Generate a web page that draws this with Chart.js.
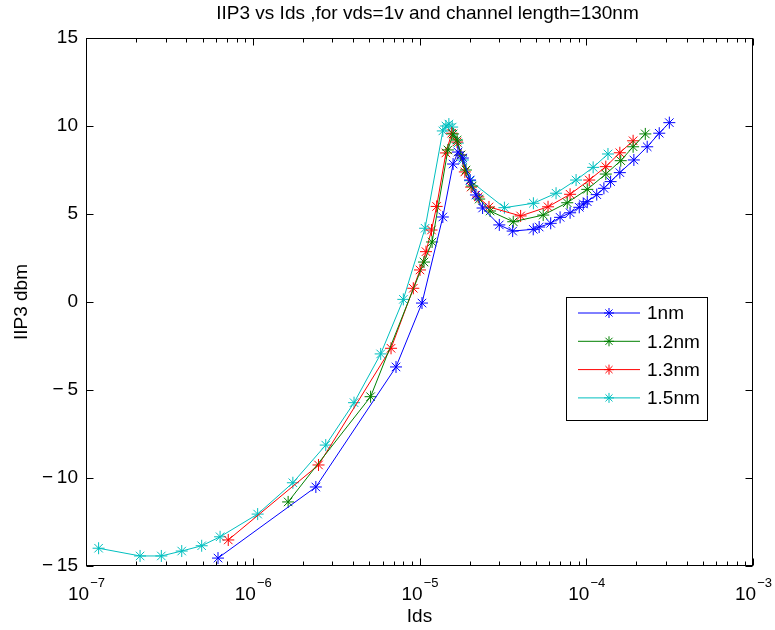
<!DOCTYPE html>
<html>
<head>
<meta charset="utf-8">
<script src="https://cdn.jsdelivr.net/npm/chart.js@4"></script>
<style>
  html, body { margin: 0; padding: 0; background: #fff; }
  canvas { display: block; }
</style>
</head>
<body>
<canvas id="chart" width="775" height="630"></canvas>
<script>
// IIP3 (dbm) vs Ids (A), 4 oxide thicknesses
const ids1nm  = [6.19e-7, 2.39e-6, 7.23e-6, 1.035e-5, 1.38e-5, 1.59e-5, 1.70e-5, 1.82e-5, 2.01e-5, 2.18e-5, 2.39e-5, 3.01e-5, 3.62e-5, 4.81e-5, 5.22e-5, 6.12e-5, 6.97e-5, 8.0e-5, 9.08e-5, 9.6e-5, 1.014e-4, 1.156e-4, 1.276e-4, 1.40e-4, 1.59e-4, 1.93e-4, 2.32e-4, 2.74e-4, 3.15e-4];
const iip1nm  = [-14.55, -10.51, -3.69, -0.06, 4.83, 7.84, 8.52, 8.18, 6.93, 6.08, 5.34, 4.38, 4.03, 4.13, 4.26, 4.47, 4.81, 5.07, 5.38, 5.57, 5.70, 6.10, 6.46, 6.84, 7.35, 8.07, 8.82, 9.59, 10.19];

const ids12nm = [1.63e-6, 5.09e-6, 1.064e-5, 1.19e-5, 1.48e-5, 1.59e-5, 1.68e-5, 1.77e-5, 1.90e-5, 2.07e-5, 2.28e-5, 2.65e-5, 3.65e-5, 5.52e-5, 7.69e-5, 1.014e-4, 1.31e-4, 1.61e-4, 1.91e-4, 2.26e-4];
const iip12nm = [-11.36, -5.38, 2.27, 3.41, 8.64, 9.55, 9.20, 8.35, 7.50, 6.59, 5.85, 5.17, 4.56, 4.94, 5.64, 6.40, 7.27, 8.03, 8.82, 9.55];

const ids13nm = [7.13e-7, 2.48e-6, 6.75e-6, 9.18e-6, 1.007e-5, 1.094e-5, 1.18e-5, 1.267e-5, 1.44e-5, 1.56e-5, 1.68e-5, 1.77e-5, 1.87e-5, 2.04e-5, 2.25e-5, 2.61e-5, 4.04e-5, 5.90e-5, 8.0e-5, 1.042e-4, 1.31e-4, 1.59e-4, 1.91e-4];
const iip13nm = [-13.52, -9.26, -2.63, 0.78, 1.82, 2.86, 4.09, 5.43, 8.47, 9.59, 9.09, 8.35, 7.39, 6.53, 5.97, 5.40, 4.89, 5.41, 6.12, 6.93, 7.69, 8.48, 9.16];

const ids15nm = [1.19e-7, 2.11e-7, 2.83e-7, 3.75e-7, 4.94e-7, 6.37e-7, 1.07e-6, 1.74e-6, 2.74e-6, 4.05e-6, 5.85e-6, 8.0e-6, 1.08e-5, 1.38e-5, 1.44e-5, 1.50e-5, 1.57e-5, 1.70e-5, 1.82e-5, 2.01e-5, 3.23e-5, 4.82e-5, 6.59e-5, 8.69e-5, 1.10e-4, 1.35e-4];
const iip15nm = [-13.99, -14.43, -14.43, -14.15, -13.85, -13.34, -12.05, -10.27, -8.13, -5.72, -2.95, 0.15, 4.19, 9.72, 10.0, 10.11, 9.94, 9.03, 8.07, 6.89, 5.36, 5.61, 6.18, 6.93, 7.65, 8.41];

const seriesLabels = ['1nm', '1.2nm', '1.3nm', '1.5nm'];
const seriesColors = ['#0000ff', '#008000', '#ff0000', '#00bfbf'];
const xDecades = [-7, -6, -5, -4, -3];
const yTicks = [-15, -10, -5, 0, 5, 10, 15];

const FONT = "'Liberation Sans', Arial, Helvetica, sans-serif";
const FS = 19;
const pts = (xs, ys) => xs.map((x, i) => ({ x, y: ys[i] }));
const allX = [ids1nm, ids12nm, ids13nm, ids15nm];
const allY = [iip1nm, iip12nm, iip13nm, iip15nm];

const datasets = seriesLabels.map((label, i) => ({
  label,
  data: pts(allX[i], allY[i]),
  borderColor: seriesColors[i],
  backgroundColor: seriesColors[i],
  borderWidth: 1,
  pointStyle: 'star',
  pointRadius: 6,
  pointBorderWidth: 1,
  pointHoverRadius: 6,
  tension: 0,
  fill: false,
}));

function drawStar(ctx, x, y, r) {
  ctx.beginPath();
  ctx.moveTo(x - r, y); ctx.lineTo(x + r, y);
  ctx.moveTo(x, y - r); ctx.lineTo(x, y + r);
  const d = r * Math.SQRT1_2;
  ctx.moveTo(x - d, y - d); ctx.lineTo(x + d, y + d);
  ctx.moveTo(x - d, y + d); ctx.lineTo(x + d, y - d);
  ctx.stroke();
}

// matlab style box, inside ticks, title, superscript tick labels, legend
const matlabFrame = {
  id: 'matlabFrame',
  afterDraw(chart) {
    const { ctx, chartArea: a, scales: { x, y } } = chart;
    const L = Math.round(a.left) + 0.5, R = Math.round(a.right) - 0.5;
    const T = Math.round(a.top) + 0.5, B = Math.round(a.bottom) - 0.5;
    ctx.save();
    ctx.strokeStyle = '#000';
    ctx.lineWidth = 1;
    ctx.strokeRect(L, T, R - L, B - T);

    ctx.beginPath();
    yTicks.forEach(v => {
      const py = Math.round(y.getPixelForValue(v)) + 0.5;
      ctx.moveTo(L, py); ctx.lineTo(L + 7, py);
      ctx.moveTo(R, py); ctx.lineTo(R - 7, py);
    });
    xDecades.forEach((e, k) => {
      const px = Math.round(x.getPixelForValue(Math.pow(10, e))) + 0.5;
      ctx.moveTo(px, B); ctx.lineTo(px, B - 7);
      ctx.moveTo(px, T); ctx.lineTo(px, T + 7);
      if (k < xDecades.length - 1) {
        for (let m = 2; m <= 9; m++) {
          const mx = Math.round(x.getPixelForValue(m * Math.pow(10, e))) + 0.5;
          ctx.moveTo(mx, B); ctx.lineTo(mx, B - 4);
          ctx.moveTo(mx, T); ctx.lineTo(mx, T + 4);
        }
      }
    });
    ctx.stroke();

    // x tick labels 10^e
    ctx.fillStyle = '#000';
    ctx.textBaseline = 'alphabetic';
    xDecades.forEach(e => {
      const px = x.getPixelForValue(Math.pow(10, e));
      ctx.font = FS + 'px ' + FONT;
      const w1 = ctx.measureText('10').width;
      ctx.font = '13px ' + FONT;
      const sup = '\u2212' + Math.abs(e);
      const w2 = ctx.measureText(sup).width;
      const x0 = px - (w1 + w2) / 2;
      ctx.font = FS + 'px ' + FONT;
      ctx.textAlign = 'left';
      ctx.fillText('10', x0, 600);
      ctx.font = '13px ' + FONT;
      ctx.fillText(sup, x0 + w1 + 1, 587);
    });

    // title
    ctx.font = FS + 'px ' + FONT;
    ctx.textAlign = 'center';
    ctx.textBaseline = 'middle';
    ctx.fillText('IIP3 vs Ids ,for vds=1v and channel length=130nm', (a.left + a.right) / 2 + 8, 14);

    // legend
    const lx = 566.5, ly = 297.5, lw = 141, lh = 123;
    ctx.fillStyle = '#fff';
    ctx.fillRect(lx, ly, lw, lh);
    ctx.strokeStyle = '#000';
    ctx.strokeRect(lx, ly, lw, lh);
    chart.data.datasets.forEach((ds, i) => {
      const cy = 313 + i * 28.3;
      ctx.strokeStyle = ds.borderColor;
      ctx.beginPath();
      ctx.moveTo(578, cy); ctx.lineTo(640, cy);
      ctx.stroke();
      drawStar(ctx, 609, cy, 5);
      ctx.fillStyle = '#000';
      ctx.font = FS + 'px ' + FONT;
      ctx.textAlign = 'left';
      ctx.textBaseline = 'middle';
      ctx.fillText(ds.label, 647, cy + 1);
    });
    ctx.restore();
  }
};

new Chart(document.getElementById('chart'), {
  type: 'line',
  data: { datasets },
  options: {
    responsive: false,
    animation: false,
    devicePixelRatio: 1,
    layout: { padding: { top: 38, right: 22, left: 0, bottom: 0 } },
    plugins: {
      legend: { display: false },
      tooltip: { enabled: false },
      title: { display: false },
    },
    scales: {
      x: {
        type: 'logarithmic',
        min: 1e-7,
        max: 1e-3,
        grid: { display: false },
        border: { display: false },
        ticks: { display: false },
        title: { display: true, text: 'Ids', color: '#000', font: { family: FONT, size: FS }, padding: { top: 0, bottom: 2 } },
        afterFit: s => { s.height = 64; },
      },
      y: {
        type: 'linear',
        min: -15,
        max: 15,
        grid: { display: false, drawTicks: false },
        border: { display: false },
        ticks: {
          stepSize: 5, color: '#000', padding: 8, font: { family: FONT, size: FS },
          callback: v => v < 0 ? '\u2212\u2009' + Math.abs(v) : String(v),
        },
        title: { display: true, text: 'IIP3 dbm', color: '#000', font: { family: FONT, size: FS }, padding: { top: 10, bottom: 0 } },
        afterFit: s => { s.width = 86; },
      },
    },
  },
  plugins: [matlabFrame],
});
</script>
</body>
</html>
